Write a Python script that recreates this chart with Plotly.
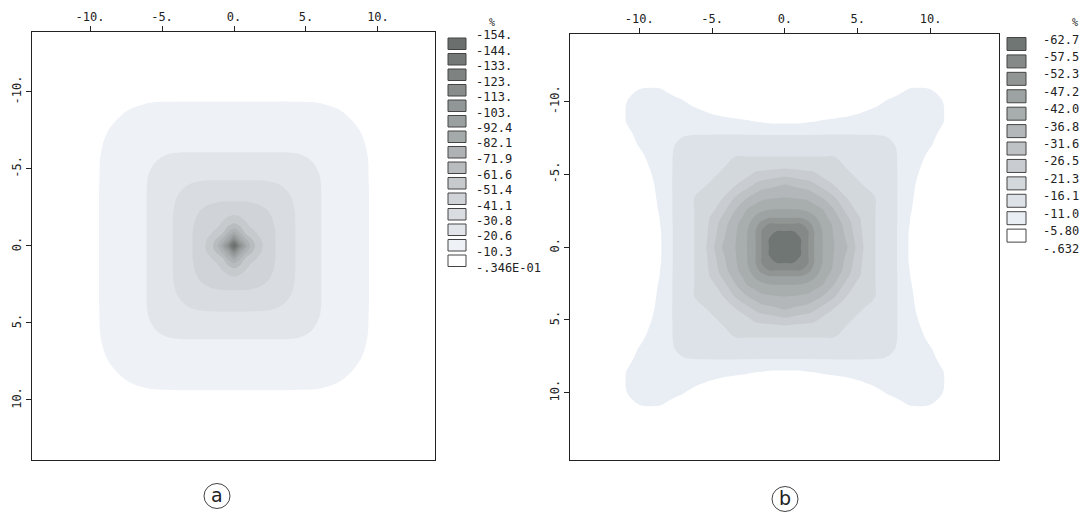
import numpy as np
import plotly.graph_objects as go

W, H = 1090, 515

# ---------------- data (values in %) ----------------
# grid positions (non-negative quadrant; the maps are symmetric about both axes)
grid_a = [0, 0.4, 0.8, 1.2, 1.7, 2.3, 3.0, 3.8, 4.6, 5.4, 6.2, 7.2, 8.4, 9.6, 11, 14.2]
# upper-triangle rows of the quadrant field, panel (a)
tri_a = [
    [-154, -117.7, -87.9, -68.5, -55.5, -47.1, -40, -33.9, -28.6, -24, -19.9, -16.7, -12.9, -9.7, -8.4, -6.8],
    [-90.4, -75, -63.1, -53.6, -46.7, -40, -33.9, -28.6, -24, -19.9, -16.7, -12.9, -9.7, -8.4, -6.8],
    [-61.7, -56.1, -50.2, -46.1, -40, -33.9, -28.6, -24, -19.9, -16.7, -12.9, -9.7, -8.4, -6.8],
    [-50.5, -48.5, -44.8, -39.8, -33.9, -28.6, -24, -19.9, -16.7, -12.9, -9.7, -8.4, -6.8],
    [-46.3, -43.6, -39.1, -33.8, -28.6, -24, -19.9, -16.7, -12.9, -9.7, -8.4, -6.8],
    [-41.3, -38, -33.2, -28.6, -24, -19.9, -16.7, -12.9, -9.7, -8.4, -6.8],
    [-35.7, -32, -28.1, -23.9, -19.9, -16.7, -12.9, -9.7, -8.4, -6.7],
    [-29.8, -27.1, -23.6, -19.9, -16.7, -12.9, -9.7, -8.4, -6.7],
    [-25.3, -22.6, -19.6, -16.6, -12.9, -9.6, -8.3, -6.7],
    [-20.8, -19, -16.2, -12.7, -9.6, -8.3, -6.6],
    [-17.6, -15.4, -12.2, -9.4, -8.3, -6.6],
    [-13.8, -11.2, -9, -8.2, -6.5],
    [-9.7, -8.6, -8, -6.4],
    [-8.2, -7.7, -6.2],
    [-7.3, -5.9],
    [-5],
]

grid_b = [0, 0.55, 1.1, 1.6, 2.0, 2.6, 3.4, 4.3, 4.85, 5.4, 6.2, 7.0, 7.7, 8.5, 9.2, 10.0, 10.8, 11.6, 12.6, 14.8]
tri_b = [
    [-62.6, -60.1, -57.5, -52.4, -47.2, -42, -36.8, -31.7, -26.5, -21.3, -16.2, -13.4, -11, -5.7, -3.9, -3, -2.6, -2.2, -1.7, -0.7],
    [-59.8, -57.5, -52.4, -47.2, -41.9, -36.5, -30.7, -25.6, -20.8, -16.2, -13.4, -11, -5.7, -4, -3, -2.6, -2.2, -1.7, -0.7],
    [-56.3, -52.4, -47.2, -41.7, -36.1, -29.8, -24.7, -20.5, -16.2, -13.4, -11, -5.8, -4, -3, -2.6, -2.2, -1.7, -0.7],
    [-49, -45.2, -40.6, -35.6, -28.9, -24, -20.2, -16.2, -13.4, -11, -6, -4.1, -3, -2.6, -2.2, -1.7, -0.7],
    [-43.3, -39.1, -34, -27.3, -23.2, -20, -16.2, -13.4, -11.1, -6.1, -4.1, -3.1, -2.6, -2.2, -1.7, -0.7],
    [-36.8, -31.4, -24.2, -20.9, -19.3, -16.2, -13.5, -11.1, -6.5, -4.3, -3.1, -2.6, -2.2, -1.7, -0.7],
    [-26.9, -20.9, -19.4, -18, -16.2, -13.5, -11.1, -7, -4.5, -3.1, -2.7, -2.2, -1.7, -0.7],
    [-18.9, -17.3, -16, -14.8, -13.1, -11.1, -7.8, -4.8, -3.1, -2.7, -2.3, -1.7, -0.7],
    [-16, -15.5, -14.3, -12.8, -11.1, -8.3, -5.4, -3.2, -2.7, -2.3, -1.7, -0.7],
    [-14.9, -14, -12.6, -11, -8.8, -6.1, -3.3, -2.8, -2.3, -1.7, -0.7],
    [-13.3, -12.3, -11, -9.5, -7.5, -4.1, -2.9, -2.4, -1.8, -0.7],
    [-11.7, -10.8, -9.8, -8.5, -6.2, -3.1, -2.5, -1.8, -0.7],
    [-10.4, -9.6, -8.7, -7.3, -4.4, -2.7, -1.9, -0.7],
    [-9.1, -8.4, -7.5, -6.1, -3.2, -2.2, -0.7],
    [-7.9, -7.2, -6.2, -4, -2.5, -0.7],
    [-6.6, -5.9, -4.1, -2.8, -0.9],
    [-4.7, -3.3, -2.8, -1.2],
    [-3, -2.6, -1.4],
    [-2.3, -1.4],
    [-0.8],
]

tick_vals = [-10, -5, 0, 5, 10]
tick_text = ["-10.", "-5.", "0.", "5.", "10."]

levels_a = ["-154.", "-144.", "-133.", "-123.", "-113.", "-103.", "-92.4", "-82.1",
            "-71.9", "-61.6", "-51.4", "-41.1", "-30.8", "-20.6", "-10.3", "-.346E-01"]
levels_b = ["-62.7", "-57.5", "-52.3", "-47.2", "-42.0", "-36.8", "-31.6", "-26.5",
            "-21.3", "-16.1", "-11.0", "-5.80", "-.632"]
level_num_a = dict(start=-154.08, end=-0.03, size=10.2697)
level_num_b = dict(start=-62.7, end=-0.63, size=5.1723)

colors_a = ["#6b706e", "#747977", "#7e8381", "#888d8c", "#919696", "#9a9fa0", "#a4a9aa",
            "#aeb2b4", "#b8bcbf", "#c6cacd", "#d0d4d9", "#d9dde2", "#e2e6eb", "#eef2f7", "#ffffff"]
colors_b = ["#707673", "#858a89", "#919695", "#9da2a2", "#a8adae", "#b3b7b9", "#bec2c5",
            "#c9cdd1", "#d3d8dd", "#dde2e8", "#e9eef5", "#ffffff"]

# ---------------- assemble full symmetric grids ----------------
def quadrant(tri):
    n = len(tri)
    Q = np.zeros((n, n))
    for j, row in enumerate(tri):
        for k, v in enumerate(row):
            Q[j, j + k] = v
            Q[j + k, j] = v
    return Q

def full(grid, tri):
    g = np.asarray(grid, float)
    n = len(g)
    idx = list(range(n - 1, 0, -1)) + list(range(n))
    coords = np.concatenate([-g[::-1], g[1:]])
    return coords, quadrant(tri)[np.ix_(idx, idx)]

xa, Za = full(grid_a, tri_a)
xb, Zb = full(grid_b, tri_b)

def cscale(cols):
    allc = [cols[0]] + cols + [cols[-1]]
    n = len(allc) - 1
    return [[k / n, c] for k, c in enumerate(allc)]

FONT = "DejaVu Sans Mono"
INK = "#222222"

fig = go.Figure()
fig.add_trace(go.Contour(x=xa, y=xa, z=Za, autocontour=False,
    contours=dict(coloring="fill", showlines=False, **level_num_a),
    colorscale=cscale(colors_a), showscale=False, line=dict(width=0, smoothing=1),
    hoverinfo="skip", xaxis="x", yaxis="y"))
fig.add_trace(go.Contour(x=xb, y=xb, z=Zb, autocontour=False,
    contours=dict(coloring="fill", showlines=False, **level_num_b),
    colorscale=cscale(colors_b), showscale=False, line=dict(width=0, smoothing=1),
    hoverinfo="skip", xaxis="x2", yaxis="y2"))

def ax(domain, rng, side, angle):
    return dict(domain=domain, range=rng, side=side, tickvals=tick_vals, ticktext=tick_text,
                ticks="outside", ticklen=5, tickwidth=1, tickcolor=INK, showline=True,
                linecolor=INK, linewidth=1, mirror=True, showgrid=False, zeroline=False,
                tickangle=angle, tickfont=dict(family=FONT, size=12, color=INK))

fig.update_layout(
    width=W, height=H, autosize=False, margin=dict(l=0, r=0, t=0, b=0),
    paper_bgcolor="white", plot_bgcolor="white", showlegend=False,
    xaxis=dict(ax([32 / W, 435 / W], [-14.03, 13.96], "top", 0), anchor="y"),
    yaxis=dict(ax([1 - 460 / H, 1 - 32 / H], [13.91, -13.88], "left", -90), anchor="x"),
    xaxis2=dict(ax([570 / W, 999 / W], [-14.75, 14.7], "top", 0), anchor="y2"),
    yaxis2=dict(ax([1 - 460 / H, 1 - 34 / H], [14.64, -14.64], "left", -90), anchor="x2"),
)

shapes, annos = [], []
def px(x): return x / W
def py(y): return 1 - y / H

def legend(labels, cols, x0, x1, lx, y0, pitch, top_off, bh, pct):
    for k, lab in enumerate(labels):
        yl = y0 + pitch * k
        annos.append(dict(x=px(lx), y=py(yl), xref="paper", yref="paper", text=lab,
                          showarrow=False, xanchor="left", yanchor="middle",
                          font=dict(family=FONT, size=12, color=INK)))
        if k < len(cols):
            shapes.append(dict(type="rect", xref="paper", yref="paper",
                               x0=px(x0), x1=px(x1), y0=py(yl + top_off), y1=py(yl + top_off + bh),
                               line=dict(color="#444444", width=1), fillcolor=cols[k]))
    annos.append(dict(x=px(pct[0]), y=py(pct[1]), xref="paper", yref="paper", text="%",
                      showarrow=False, xanchor="center", yanchor="middle",
                      font=dict(family=FONT, size=10, color=INK)))

legend(levels_a, colors_a, 448, 466, 474, 35, 15.5, 3, 11.5, (492, 22))
legend(levels_b, colors_b, 1007, 1026, 1041, 39.5, 17.42, -2, 13, (1075, 22))

for cx, cy, t in [(217, 496, "a"), (785, 499, "b")]:
    shapes.append(dict(type="circle", xref="paper", yref="paper", x0=px(cx - 13), x1=px(cx + 13),
                       y0=py(cy + 12.5), y1=py(cy - 12.5), line=dict(color="#444444", width=1)))
    annos.append(dict(x=px(cx), y=py(cy - 1), xref="paper", yref="paper", text=t, showarrow=False,
                      xanchor="center", yanchor="middle",
                      font=dict(family="DejaVu Sans", size=19, color=INK)))

fig.update_layout(shapes=shapes, annotations=annos)
fig.write_html("out.html", config={"displayModeBar": False},
               post_script="document.body.style.margin='0';document.body.style.overflow='hidden';")
